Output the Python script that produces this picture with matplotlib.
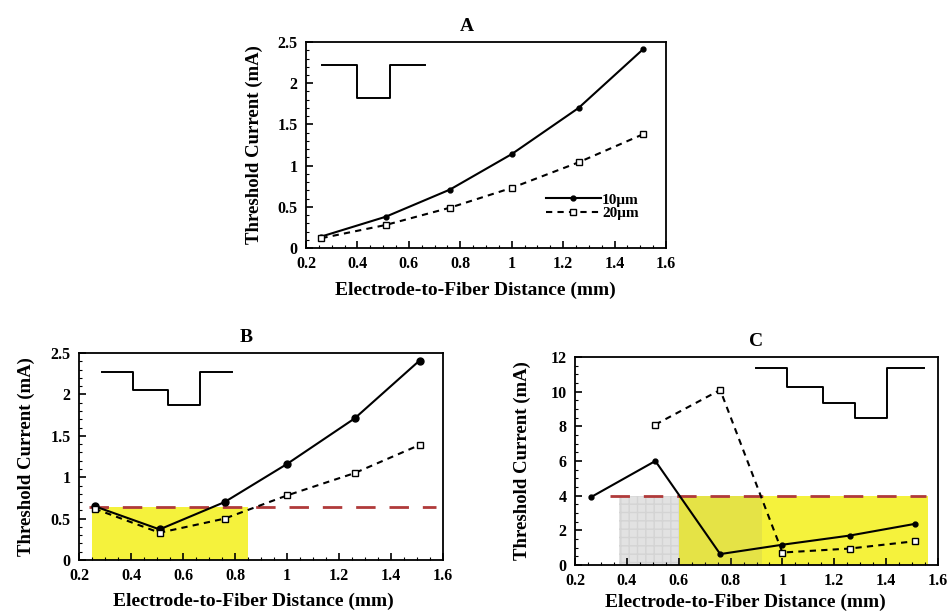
import matplotlib
matplotlib.use('Agg')
import matplotlib.pyplot as plt
from matplotlib.ticker import MultipleLocator
import numpy as np

plt.rcParams['font.family'] = ['Liberation Serif', 'DejaVu Serif']
plt.rcParams['font.weight'] = 'bold'

# electrode-to-fiber distance (mm)
dist = [0.26, 0.51, 0.76, 1.0, 1.26, 1.51]

# panel A: single monophasic pulse
a_10um = [0.14, 0.38, 0.71, 1.14, 1.70, 2.41]
a_20um = [0.12, 0.28, 0.49, 0.73, 1.04, 1.38]

# panel B: two-step pulse
b_10um = [0.65, 0.37, 0.70, 1.16, 1.71, 2.41]
b_20um = [0.62, 0.33, 0.50, 0.78, 1.05, 1.39]
b_limit = 0.64
b_window = (0.25, 0.85)

# panel C: three-step pulse
c_10um = [3.9, 6.0, 0.63, 1.17, 1.70, 2.37]
c_20um = [np.nan, 8.1, 10.1, 0.72, 0.95, 1.37]
c_limit = 4.0
c_gray = (0.37, 0.92)
c_window = (0.60, 1.56)

# stimulus waveforms drawn as insets (axes fraction)
wave_a = ([0.044, 0.142, 0.142, 0.233, 0.233, 0.33],
          [0.888, 0.888, 0.728, 0.728, 0.888, 0.888])
wave_b = ([0.062, 0.149, 0.149, 0.244, 0.244, 0.332, 0.332, 0.42],
          [0.907, 0.907, 0.821, 0.821, 0.749, 0.749, 0.907, 0.907])
wave_c = ([0.499, 0.583, 0.583, 0.682, 0.682, 0.771, 0.771, 0.859, 0.859, 0.96],
          [0.946, 0.946, 0.857, 0.857, 0.78, 0.78, 0.705, 0.705, 0.946, 0.946])

yellow = '#f5f23c'
red = '#b03a3a'

fig = plt.figure(figsize=(9.48, 6.14), dpi=100)
ax_a = fig.add_axes([0.3228, 0.596, 0.3797, 0.3355])
ax_b = fig.add_axes([0.0833, 0.0879, 0.384, 0.3371])
ax_c = fig.add_axes([0.6065, 0.0798, 0.383, 0.3388])


def style(ax, ymax, ymajor, yminor, title, tx, lx, ly):
    ax.set_xlim(0.2, 1.6)
    ax.set_ylim(0, ymax)
    ax.xaxis.set_major_locator(MultipleLocator(0.2))
    ax.xaxis.set_minor_locator(MultipleLocator(0.05))
    ax.yaxis.set_major_locator(MultipleLocator(ymajor))
    ax.yaxis.set_minor_locator(MultipleLocator(yminor))
    ax.tick_params(which='both', direction='in', top=False, right=False,
                   labelsize=11.5, pad=6)
    ax.tick_params(which='major', length=5, width=1.2)
    ax.tick_params(which='minor', length=2.5, width=0.8)
    ax.xaxis.set_major_formatter(plt.FuncFormatter(lambda v, p: '%g' % v))
    ax.yaxis.set_major_formatter(plt.FuncFormatter(lambda v, p: '%g' % v))
    for s in ax.spines.values():
        s.set_linewidth(1.3)
    ax.set_title(title, fontsize=14, fontweight='bold', x=tx, pad=8)
    ax.set_xlabel('Electrode-to-Fiber Distance (mm)', fontsize=14,
                  fontweight='bold')
    ax.xaxis.set_label_coords(lx, ly)
    ax.set_ylabel('Threshold Current (mA)', fontsize=13.5, fontweight='bold')
    ax.yaxis.set_label_coords(-0.12, 0.5)


def draw(ax, y10, y20, ms10, ms20):
    ax.plot(dist, y10, '-', color='black', lw=1.5, marker='o', ms=ms10,
            label='10\u03bcm', zorder=4)
    ax.plot(dist, y20, '--', color='black', lw=1.5, dashes=(3, 2.5),
            marker='s', ms=ms20, mfc='white', mew=1.0,
            label='20\u03bcm', zorder=4)


# A
style(ax_a, 2.5, 0.5, 0.1, 'A', 0.447, 0.47, -0.165)
draw(ax_a, a_10um, a_20um, 3.5, 4.5)
ax_a.plot(*wave_a, color='black', lw=1.4, transform=ax_a.transAxes)
ax_a.legend(loc='lower right', bbox_to_anchor=(0.95, 0.09), frameon=False,
            fontsize=11, handlelength=3.6, handletextpad=0.1,
            labelspacing=0.0, borderpad=0.1)

# B
style(ax_b, 2.5, 0.5, 0.1, 'B', 0.46, 0.48, -0.16)
ax_b.axvspan(b_window[0], b_window[1], ymin=0, ymax=b_limit / 2.5,
             color=yellow, lw=0, zorder=1)
ax_b.plot([0.24, 1.575], [b_limit, b_limit], color=red, lw=2,
          dashes=(7, 5), zorder=3)
draw(ax_b, b_10um, b_20um, 5, 5)
ax_b.plot(*wave_b, color='black', lw=1.4, transform=ax_b.transAxes)

# C
style(ax_c, 12, 2, 0.5, 'C', 0.5, 0.47, -0.14)
ax_c.axvspan(c_window[0], c_window[1], ymin=0, ymax=c_limit / 12,
             color=yellow, lw=0, zorder=1)
ax_c.axvspan(c_gray[0], c_window[0], ymin=0, ymax=c_limit / 12,
             facecolor='#e2e2e2', edgecolor='#d4d4d4', hatch='++',
             lw=0, zorder=1)
ax_c.axvspan(c_window[0], c_gray[1], ymin=0, ymax=c_limit / 12,
             facecolor='#888888', alpha=0.14, lw=0, zorder=2)
ax_c.plot([0.335, 1.555], [c_limit, c_limit], color=red, lw=2,
          dashes=(7, 5), zorder=3)
draw(ax_c, c_10um, c_20um, 3.5, 4)
ax_c.plot(*wave_c, color='black', lw=1.4, transform=ax_c.transAxes)

fig.savefig('out.png', dpi=100)
